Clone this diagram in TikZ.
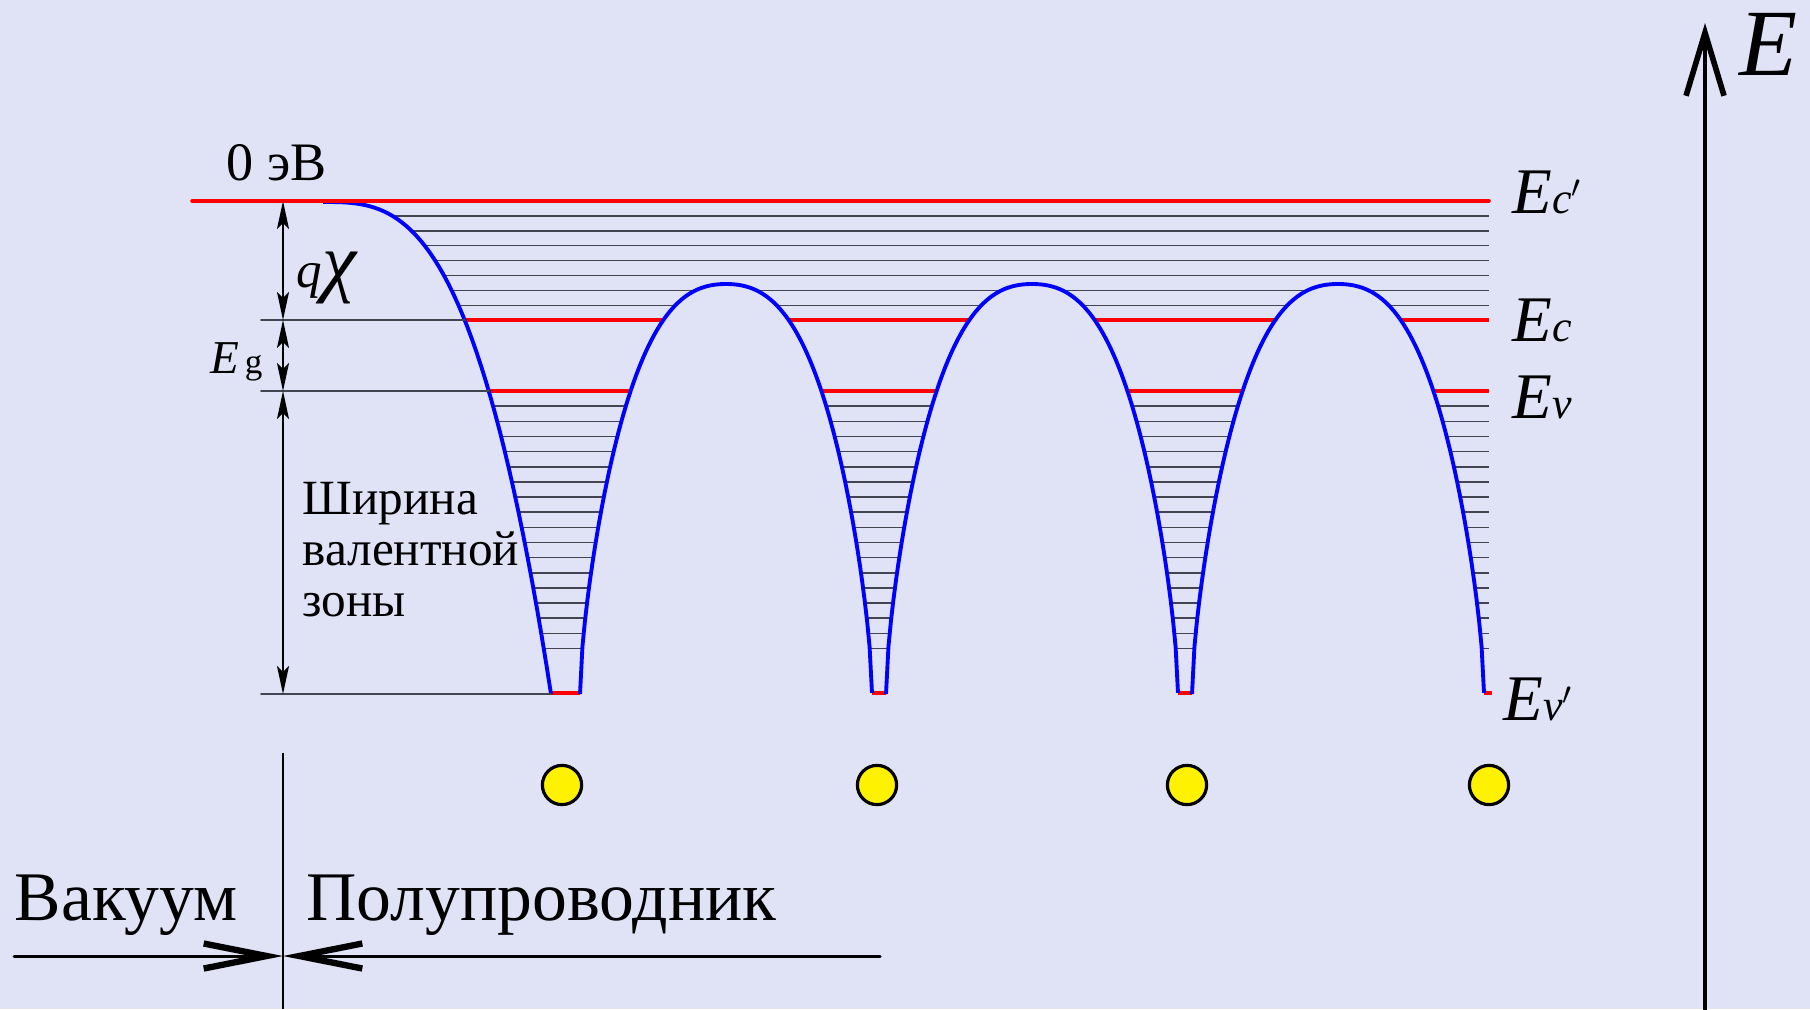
\documentclass[tikz,border=0pt]{standalone}
\usepackage{fontspec}
\setmainfont{Liberation Serif}
\usepackage{tkz-euclide}
\usetikzlibrary{arrows.meta}
\definecolor{bgcol}{RGB}{224,226,245}
\definecolor{hatchcol}{RGB}{66,68,80}
\tikzset{
    level/.style={red,line width=1pt},
    band/.style={blue,line width=1.1pt},
    hatch/.style={hatchcol,line width=0.45pt},
    extline/.style={hatchcol,line width=0.45pt},
    dimline/.style={black,line width=0.4pt,{Stealth[length=2.8mm,width=1.2mm,inset=0.6mm]}-{Stealth[length=2.8mm,width=1.2mm,inset=0.6mm]}},
    sideline/.style={black,line width=0.85pt,-{Straight Barb[length=6.3mm,width=2.5mm,line width=1.8pt]}},
    axisline/.style={black,line width=1.4pt,-{Straight Barb[length=6.3mm,width=3.8mm,line width=1.6pt]}},
    atom/.style={fill=yellow,draw=black,line width=0.9pt},
    lbl/.style={inner sep=0pt,anchor=base west},
    levlbl/.style={lbl,font=\fontsize{18.5}{22}\selectfont\itshape}
}
\newcommand\sub[1]{{\fontsize{12.5}{14}\selectfont #1}}
\begin{document}
\begin{tikzpicture}[x=0.01cm,y=-0.01cm]
    \useasboundingbox (0,0) rectangle (1810,1009);
    \fill[bgcol] (0,0) rectangle (1810,1009);
    \begin{scope}
        \clip (323,195) -- plot[domain=0:228,samples=50] ({323+\x},{202+492*(\x/228)*(\x/228)*(\x/228)})
            -- (551,700) -- (580,700)
            -- plot[domain=-146:146,samples=121] ({726+\x},{284+205*(1-sqrt(abs(1-(\x/146)*(\x/146)))+abs(\x/146)*(\x/146)*(\x/146))})
            -- (872,700) -- (886,700)
            -- plot[domain=-146:146,samples=121] ({1032+\x},{284+205*(1-sqrt(abs(1-(\x/146)*(\x/146)))+abs(\x/146)*(\x/146)*(\x/146))})
            -- (1178,700) -- (1192,700)
            -- plot[domain=-146:146,samples=121] ({1338+\x},{284+205*(1-sqrt(abs(1-(\x/146)*(\x/146)))+abs(\x/146)*(\x/146)*(\x/146))})
            -- (1484,700) -- (1492,700) -- (1492,195) -- cycle;
        \foreach \k in {1,...,7}{
            \draw[hatch] (300,{201+\k*14.9}) -- (1489,{201+\k*14.9});
        }
        \foreach \k in {1,...,17}{
            \draw[hatch] (300,{391+\k*15.15}) -- (1489,{391+\k*15.15});
        }
        \draw[level] (300,320) -- (1489,320);
        \draw[level] (300,391) -- (1489,391);
        \draw[level] (540,693) -- (1492,693);
    \end{scope}
    \draw[band] plot[domain=0:228,samples=50] ({323+\x},{202+492*(\x/228)*(\x/228)*(\x/228)});
    \foreach \c in {726,1032,1338}{
        \draw[band] plot[domain=-146:146,samples=121] ({\c+\x},{284+205*(1-sqrt(abs(1-(\x/146)*(\x/146)))+abs(\x/146)*(\x/146)*(\x/146))});
    }
    \tkzDefPoints{192/201/A,1489/201/A_1}
    \tkzDrawSegments[level](A,A_1)
    \tkzDefPoints{261/320/P_1,465/320/Q_1,261/391/P_2,489/391/Q_2,261/694/P_3,551/694/Q_3}
    \tkzDrawSegments[extline](P_1,Q_1 P_2,Q_2 P_3,Q_3)
    \tkzDefPoints{283/201/D_0,283/320/D_1,283/391/D_2,283/694/D_3}
    \tkzDrawSegments[dimline](D_0,D_1 D_1,D_2 D_2,D_3)
    \foreach \x in {562,877,1187,1489}{
        \draw[atom] (\x,785) circle[radius=1.96mm];
    }
    \tkzDefPoints{283/753/S,283/1009/S_1,14/956/L,880/956/R,283/956/M}
    \draw[black,line width=0.75pt] (S) -- (S_1);
    \tkzDrawSegments[sideline](L,M R,M)
    \tkzDefPoints{1705/1009/O,1705/23/O_1}
    \tkzDrawSegments[axisline](O,O_1)
\node[lbl,font=\fontsize{15.4}{18}\selectfont] (zero) at (226,180) {0 эВ};
\node[lbl,font=\fontsize{14.5}{17}\selectfont\itshape] (qchi) at (296,287) {q{\fontsize{22}{26}\selectfont χ}};
\node[lbl,font=\fontsize{13.4}{16}\selectfont] (eg) at (210,373) {\textit{E}\hspace{1.5pt}{\fontsize{10}{12}\selectfont g}};
\node[lbl,align=left,font=\fontsize{14}{14.5}\selectfont] (width) at (302,616) {Ширина\\валентной\\зоны};
\node[levlbl] (ecp) at (1512,213) {E\sub{c$'$}};
\node[levlbl] (ec) at (1512,341) {E\sub{c}};
\node[levlbl] (ev) at (1512,418) {E\sub{v}};
\node[levlbl] (evp) at (1503,720) {E\sub{v$'$}};
\node[lbl,font=\fontsize{27}{32}\selectfont\itshape] (energy) at (1739,75) {E};
\node[lbl,font=\fontsize{19.8}{24}\selectfont] (vac) at (14,920) {Вакуум};
\node[lbl,font=\fontsize{19.8}{24}\selectfont] (semi) at (306,920) {Полупроводник};
\end{tikzpicture}
\end{document}
